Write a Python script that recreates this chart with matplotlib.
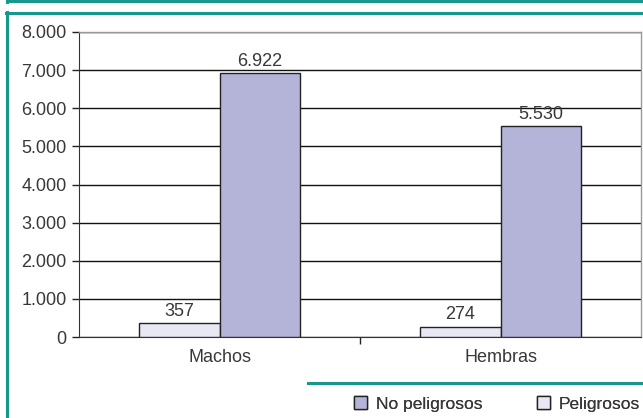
import matplotlib
matplotlib.use("Agg")
import matplotlib.pyplot as plt
from matplotlib.lines import Line2D
from matplotlib.patches import Patch

categories = ["Machos", "Hembras"]
peligrosos = [357, 274]
no_peligrosos = [6922, 5530]
yticks = [0, 1000, 2000, 3000, 4000, 5000, 6000, 7000, 8000]
ytick_labels = ["0", "1.000", "2.000", "3.000", "4.000", "5.000", "6.000", "7.000", "8.000"]
series_names = ["No peligrosos", "Peligrosos"]

plt.rcParams['font.family'] = ['Liberation Sans', 'DejaVu Sans']

W, H = 643, 418
fig = plt.figure(figsize=(W / 100, H / 100), dpi=100)
teal = "#16988c"
c_no = "#b4b4d8"
c_si = "#e8e8f4"
tc = "#383838"
fs = 13

def fx(px):
    return px / W

def fy(py):
    return 1 - py / H

# frame lines
fig.add_artist(Line2D([fx(7), fx(643)], [fy(1), fy(1)], color=teal, lw=2.2))
fig.add_artist(Line2D([fx(7), fx(7)], [fy(0), fy(1.5)], color=teal, lw=2.2))
fig.add_artist(Line2D([fx(6), fx(643)], [fy(12.5), fy(12.5)], color=teal, lw=2.2))
fig.add_artist(Line2D([fx(7), fx(7)], [fy(12), fy(418)], color=teal, lw=2.2))
fig.add_artist(Line2D([fx(308), fx(643)], [fy(383), fy(383)], color=teal, lw=2.2))

left, right, top, bottom = 79, 641, 32, 337
ax = fig.add_axes([fx(left), fy(bottom), fx(right - left), (bottom - top) / H])

x = list(range(len(categories)))
bw = 0.285
b1 = ax.bar([i - bw / 2 for i in x], peligrosos, width=bw, color=c_si, edgecolor="#222222", lw=1.0, zorder=3)
b2 = ax.bar([i + bw / 2 for i in x], no_peligrosos, width=bw, color=c_no, edgecolor="#222222", lw=1.0, zorder=3)

def fmt(v):
    return f"{v:,}".replace(",", ".")

for rects, vals in ((b1, peligrosos), (b2, no_peligrosos)):
    for r, v in zip(rects, vals):
        ax.text(r.get_x() + r.get_width() / 2, v + 90, fmt(v), ha="center", va="bottom",
                fontsize=fs, color=tc)

ax.set_xlim(-0.5, len(categories) - 0.5)
ax.set_ylim(0, 8000)
ax.set_yticks(yticks)
ax.set_yticklabels(ytick_labels, fontsize=fs, color=tc)
ax.set_xticks([0.5], minor=True)
ax.set_xticks(x)
ax.set_xticklabels(categories, fontsize=fs, color=tc)
ax.tick_params(axis="x", which="major", length=0, pad=9)
ax.tick_params(axis="x", which="minor", length=5, width=1, color="#222222", direction="out")
ax.tick_params(axis="y", length=5, width=1, color="#222222", direction="out", pad=4)
ax.yaxis.grid(True, color="#111111", lw=1.0, zorder=0)
ax.set_axisbelow(True)
for s in ("top", "right"):
    ax.spines[s].set_color("#999999")
    ax.spines[s].set_linewidth(1.0)
ax.spines["left"].set_color("#333333")
ax.spines["bottom"].set_color("#333333")

handles = [Patch(facecolor=c_no, edgecolor="#222222", lw=1.0),
           Patch(facecolor=c_si, edgecolor="#222222", lw=1.0)]
for h, name, xpos in zip(handles, series_names, (354, 537)):
    leg = fig.legend([h], [name], loc="center left", bbox_to_anchor=(fx(xpos), fy(404)),
                     frameon=False, fontsize=fs - 0.5, handlelength=0.75, handleheight=0.75,
                     handletextpad=0.5, borderpad=0, borderaxespad=0, labelcolor=tc)
    fig.add_artist(leg)

fig.savefig("out.png", dpi=100)
